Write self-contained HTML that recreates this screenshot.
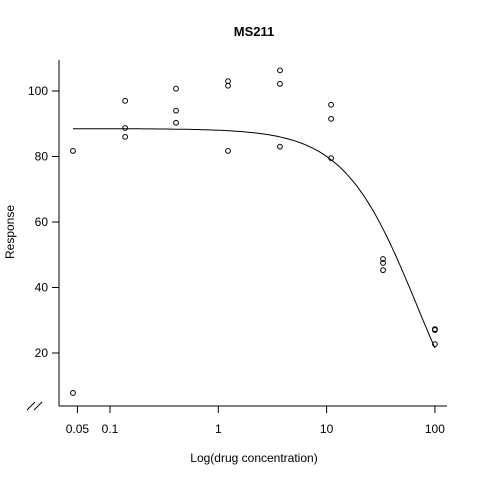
<!DOCTYPE html>
<html><head><meta charset="utf-8"><style>body{margin:0;background:#fff}svg{display:block;font-family:"Liberation Sans",sans-serif}</style></head>
<body>
<svg id="c" width="480" height="480">
<rect width="480" height="480" fill="#fff"/>
<text x="254" y="36" text-anchor="middle" font-weight="bold" font-size="13">MS211</text>
<text x="254" y="462" text-anchor="middle" font-size="12">Log(drug concentration)</text>
<text transform="translate(14,232) rotate(-90)" text-anchor="middle" font-size="12">Response</text>
<line x1="59" y1="60" x2="59" y2="406" stroke="#000"/>
<line x1="59" y1="406" x2="447" y2="406" stroke="#000"/>
<g stroke="#000"><line x1="27" y1="410" x2="35" y2="402"/><line x1="34" y1="410" x2="42" y2="402"/></g>
<g id="g"></g>
</svg>
<script>
const xTicks=[0.05,0.1,1,10,100];
const xTickLabels=["0.05","0.1","1","10","100"];
const yTicks=[20,40,60,80,100];
const conc=[0.0455,0.0455,0.138,0.138,0.138,0.407,0.407,0.407,1.23,1.23,1.23,3.71,3.71,3.71,11,11,11,33.2,33.2,33.2,100,100,100];
const resp=[81.7,7.8,97,88.7,86,100.7,94,90.3,103,101.6,81.7,106.3,102.2,83,95.8,91.5,79.5,48.7,47.5,45.3,27.3,27,22.7];
const fitTop=[88.5];const fitBottom=[-20];const fitEC50=[68.8];const fitSlope=[1.28];
const xs=c=>218.3+Math.log10(c)*108.3;
const ys=v=>91+(100-v)*3.275;
const g=document.getElementById('g');const NS='http://www.w3.org/2000/svg';
function mk(t,a){const e=document.createElementNS(NS,t);for(const k in a)e.setAttribute(k,a[k]);g.appendChild(e);return e;}
xTicks.forEach((t,i)=>{const l=mk('line',{x1:xs(t),x2:xs(t),y1:406,y2:413,stroke:'#000'});


const tx=mk('text',{x:xs(t),y:433,'text-anchor':'middle','font-size':12});tx.textContent=xTickLabels[i];

});
yTicks.forEach(t=>{const l=mk('line',{x1:52,x2:59,y1:ys(t),y2:ys(t),stroke:'#000'});


const tx=mk('text',{x:48,y:ys(t)+4,'text-anchor':'end','font-size':12});tx.textContent=t;

});
let d='';for(let i=0;i<=120;i++){const lc=Math.log10(0.0455)+(2-Math.log10(0.0455))*i/120;const c=Math.pow(10,lc);
const v=fitBottom[0]+(fitTop[0]-fitBottom[0])/(1+Math.pow(c/fitEC50[0],fitSlope[0]));d+=(i?'L':'M')+xs(c).toFixed(1)+','+ys(v).toFixed(1);}
const p=mk('path',{d:d,fill:'none',stroke:'#000'});


conc.forEach((c,i)=>{const e=mk('circle',{cx:xs(c),cy:ys(resp[i]),r:2.4,fill:'none',stroke:'#000'});

});
</script>
</body></html>
